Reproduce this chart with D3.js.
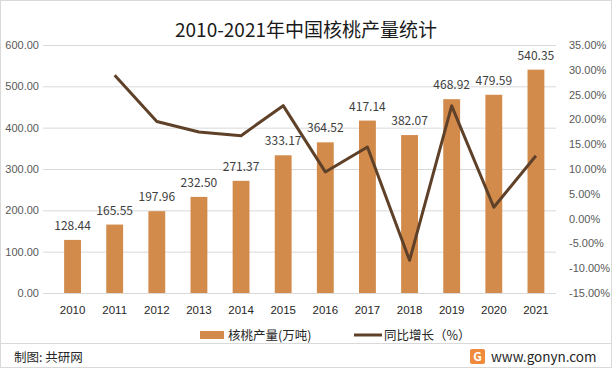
<!DOCTYPE html>
<html><head><meta charset="utf-8">
<script src="https://cdn.jsdelivr.net/npm/d3@7"></script>
<style>body{margin:0;background:#fff;}svg{display:block;font-family:"Noto Sans CJK SC","Noto Sans",sans-serif;}</style>
</head><body><svg id="c" width="614" height="370"></svg>
<script>
const years = ["2010","2011","2012","2013","2014","2015","2016","2017","2018","2019","2020","2021"];
const production = [128.44,165.55,197.96,232.50,271.37,333.17,364.52,417.14,382.07,468.92,479.59,540.35];
const growth = [null,28.90,19.58,17.45,16.72,22.77,9.41,14.44,-8.41,22.73,2.28,12.67];
const leftTicks = [0,100,200,300,400,500,600];
const rightTicks = [-15,-10,-5,0,5,10,15,20,25,30,35];
const title = "2010-2021年中国核桃产量统计";
const legendLabels = ["核桃产量(万吨)","同比增长（%）"];

const svg = d3.select("#c");
const barColor = "#D38B4C", lineColor = "#5E4128";
const plotTop = 45, plotBottom = 293, gridL = 43, gridR = 556;

svg.append("rect").attr("x",0.5).attr("y",0.5).attr("width",611).attr("height",367)
  .attr("fill","#fff").attr("stroke","#d9d9d9");

const x = d3.scaleBand().domain(years).range([51.5,557]).paddingInner(0.6).paddingOuter(0.3);
const yL = d3.scaleLinear().domain([0,600]).range([plotBottom,plotTop]);
const yR = d3.scaleLinear().domain([-15,35]).range([plotBottom,plotTop]);

// gridlines
svg.append("g").selectAll("line").data(leftTicks).join("line")
  .attr("x1",gridL).attr("x2",gridR).attr("y1",d=>yL(d)+0.5).attr("y2",d=>yL(d)+0.5)
  .attr("stroke","#d9d9d9").attr("stroke-width",1);

// left axis
const axL = d3.axisLeft(yL).tickValues(leftTicks).tickFormat(d=>d.toFixed(2)).tickSize(0).tickPadding(0);
const gL = svg.append("g").attr("transform","translate(39,0)").call(axL);
gL.select(".domain").remove();
gL.selectAll("text").attr("fill","#595959").attr("font-size","11px");

// right axis
const axR = d3.axisRight(yR).tickValues(rightTicks).tickFormat(d=>d.toFixed(2)+"%").tickSize(0).tickPadding(0);
const gR = svg.append("g").attr("transform","translate(569,0)").call(axR);
gR.select(".domain").remove();
gR.selectAll("text").attr("fill","#595959").attr("font-size","11px");

// x axis
const axX = d3.axisBottom(x).tickSize(0).tickPadding(0);
const gX = svg.append("g").attr("transform",`translate(0,${plotBottom+13})`).call(axX);
gX.select(".domain").remove();
gX.selectAll("text").attr("fill","#262626").attr("font-size","11.5px").attr("dy","0.7em");

// bars
svg.append("g").selectAll("rect").data(years).join("rect")
  .attr("x",d=>x(d)).attr("width",x.bandwidth())
  .attr("y",(d,i)=>yL(production[i])).attr("height",(d,i)=>plotBottom-yL(production[i]))
  .attr("fill",barColor);

// bar labels
svg.append("g").selectAll("text").data(years).join("text")
  .attr("x",d=>x(d)+x.bandwidth()/2).attr("y",(d,i)=>yL(production[i])-10)
  .attr("text-anchor","middle").attr("font-size","12px").attr("fill","#404040")
  .text((d,i)=>production[i].toFixed(2));

// line
const pts = years.map((d,i)=>[x(d)+x.bandwidth()/2, growth[i]]).filter(p=>p[1]!==null);
svg.append("path").datum(pts)
  .attr("d",d3.line().x(p=>p[0]).y(p=>yR(p[1])))
  .attr("fill","none").attr("stroke",lineColor).attr("stroke-width",3).attr("stroke-linejoin","round");

// title
svg.append("text").attr("x",306).attr("y",37).attr("text-anchor","middle")
  .attr("font-size","19px").attr("fill","#1a1a1a").text(title);

// legend
const lg = svg.append("g");
lg.append("rect").attr("x",200).attr("y",331).attr("width",24).attr("height",8).attr("fill",barColor);
lg.append("text").attr("x",228).attr("y",339.5).attr("font-size","12.5px").attr("fill","#262626").text(legendLabels[0]);
lg.append("line").attr("x1",354).attr("x2",382).attr("y1",335).attr("y2",335).attr("stroke",lineColor).attr("stroke-width",3);
lg.append("text").attr("x",384).attr("y",339.5).attr("font-size","12.5px").attr("fill","#262626").text(legendLabels[1]);

// footer
svg.append("line").attr("x1",0).attr("x2",611).attr("y1",343.5).attr("y2",343.5).attr("stroke","#d9d9d9");
svg.append("text").attr("x",14).attr("y",362).attr("font-size","12.5px").attr("fill","#262626").text("制图: 共研网");
svg.append("rect").attr("x",470).attr("y",349).attr("width",15).attr("height",15).attr("rx",2).attr("fill","#F08A3C");
svg.append("text").attr("x",477.5).attr("y",361).attr("text-anchor","middle").attr("font-size","12px").attr("font-weight","bold").attr("fill","#fff").text("G");
svg.append("text").attr("x",491).attr("y",362).attr("font-size","13.5px").attr("fill","#262626").text("www.gonyn.com");
</script></body></html>
